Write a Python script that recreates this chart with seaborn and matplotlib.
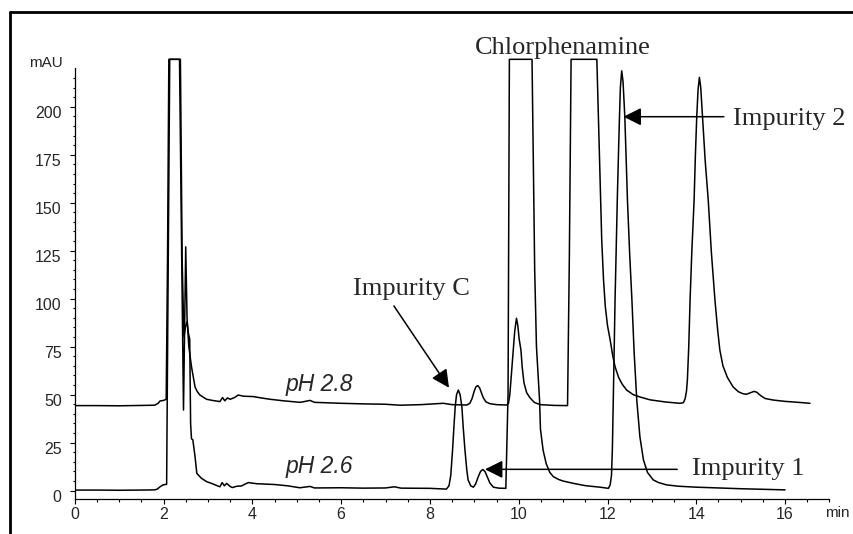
import numpy as np
import pandas as pd
import matplotlib
matplotlib.use("Agg")
import matplotlib.pyplot as plt
import seaborn as sns
from matplotlib.ticker import MultipleLocator, FixedLocator
from matplotlib.transforms import ScaledTranslation
from matplotlib.lines import Line2D

# ---------------- data ----------------
ph28_t = [0.0, 0.5, 1.0, 1.5, 1.8, 1.88, 1.92, 2.0, 2.06, 2.09, 2.12, 2.36, 2.41, 2.45,
          2.48, 2.50, 2.53, 2.57, 2.63, 2.71, 2.76, 2.82, 2.97, 3.1, 3.27, 3.33, 3.38,
          3.44, 3.5, 3.6, 3.68, 3.8, 4.02, 4.2, 4.4, 4.7, 5.08, 5.3, 5.4, 6.0, 6.5, 7.0,
          7.33, 7.8, 8.3, 8.5, 8.83, 8.90, 8.95, 9.0, 9.04, 9.08, 9.12, 9.16, 9.20, 9.26,
          9.35, 9.5, 9.73, 9.77, 9.80, 9.82, 9.85, 9.88, 9.91, 9.95, 9.98, 10.01, 10.05,
          10.08, 10.12, 10.18, 10.25, 10.35, 10.48, 10.8, 11.1, 11.14, 11.18,
          11.76, 11.80, 11.84, 11.87, 11.91, 11.95, 12.0, 12.06, 12.12, 12.17, 12.25,
          12.33, 12.43, 12.58, 12.73, 12.96, 13.3, 13.63, 13.71, 13.75, 13.78, 13.80,
          13.83, 13.86, 13.90, 13.95, 13.98, 14.01, 14.04, 14.07, 14.10, 14.14, 14.20,
          14.27, 14.34, 14.42, 14.48, 14.53, 14.60, 14.7, 14.83, 14.95, 15.05, 15.13,
          15.22, 15.3, 15.36, 15.45, 15.55, 15.73, 16.0, 16.3, 16.56]
ph28_v = [44.3, 44.3, 44.2, 44.4, 44.5, 45.5, 46.7, 47.0, 47.6, 120, 224.7, 224.7, 120, 42,
          95, 127, 90, 75, 64.6, 54, 51.6, 49.8, 47.6, 47.0, 46.4, 48.5, 46.8,
          48.3, 47.6, 48.5, 49.8, 49.2, 49.0, 48.3, 47.6, 46.8, 46.0, 47.0, 46.0, 45.5, 45.2, 45.0,
          44.5, 44.8, 45.5, 44.8, 44.6, 45.5, 48.0, 52.0, 54.2, 54.7, 53.5, 51.0, 48.5, 46.3,
          45.3, 44.8, 44.6, 45.5, 50, 56, 65, 73.3, 83, 89.8, 86, 79, 73.3,
          64, 56, 51, 48.5, 46, 44.8, 44.4, 44.3, 120, 224.7,
          224.7, 190, 155, 130.6, 110, 96, 86, 78.5, 70, 64.6, 59,
          55.5, 52.4, 50, 48.8, 47.3, 46.2, 45.5, 45.8, 48, 52, 58,
          75, 99.3, 125, 151, 175, 194.8, 209, 215.3, 210, 194.8, 172,
          151, 124, 99.3, 84, 73.3, 65, 59, 54, 51.5, 50.5, 50.2,
          51.0, 51.7, 51.3, 49.5, 48.0, 47.2, 46.5, 46.0, 45.5]

ph26_t = [0.0, 0.5, 1.0, 1.5, 1.8, 1.86, 1.92, 1.99, 2.07, 2.10, 2.14, 2.38, 2.42, 2.46,
          2.50, 2.53, 2.56, 2.59, 2.61, 2.63, 2.66, 2.71, 2.75, 2.85, 2.97, 3.1, 3.27,
          3.32, 3.37, 3.42, 3.5, 3.55, 3.65, 3.75, 3.91, 4.1, 4.5, 4.8, 5.07, 5.3, 5.4,
          6.0, 6.5, 7.0, 7.2, 7.35, 8.0, 8.37, 8.43, 8.47, 8.51, 8.54, 8.57, 8.60, 8.64,
          8.68, 8.72, 8.75, 8.79, 8.83, 8.86, 8.92, 8.98, 9.03, 9.09, 9.14, 9.19, 9.24,
          9.29, 9.35, 9.43, 9.55, 9.71, 9.76, 9.79, 10.30, 10.33, 10.36, 10.40, 10.47,
          10.49, 10.55, 10.62, 10.70, 10.78, 10.9, 11.0, 11.23, 11.5, 11.83, 12.02, 12.06,
          12.09, 12.11, 12.13, 12.15, 12.17, 12.20, 12.22, 12.25, 12.27, 12.29, 12.32,
          12.35, 12.39, 12.42, 12.45, 12.50, 12.55, 12.60, 12.66, 12.73, 12.81, 12.9,
          13.03, 13.15, 13.33, 13.6, 14.0, 15.0, 16.0]
ph26_v = [0.3, 0.3, 0.2, 0.3, 0.4, 0.8, 2.0, 3.0, 3.3, 100, 224.7, 224.7, 120, 80,
          86, 88, 82, 79, 35, 27, 26.5, 17.7, 9.0, 6.5, 4.7, 3.6, 2.0,
          4.2, 2.5, 3.8, 2.2, 1.6, 2.3, 2.4, 4.2, 3.6, 3.2, 2.5, 1.5, 2.2, 1.4,
          1.5, 1.3, 1.4, 2.0, 1.3, 1.2, 0.8, 2.5, 8, 21, 33, 43.7, 50, 52.4,
          50, 43.7, 33, 21, 11, 5.6, 2.5, 1.8, 3.5, 7.3, 10, 11.0, 10,
          7.3, 4.0, 1.8, 1.3, 1.2, 50, 224.7, 224.7, 170, 115, 75, 47,
          32, 21, 14, 9.5, 7.3, 5.8, 5.0, 3.8, 2.6, 1.8, 1.2, 3.0,
          8, 22, 47, 73, 99.3, 130, 151, 178, 194.8, 210, 218.7,
          213, 194.8, 173, 151, 123, 99.3, 72, 47, 28, 16, 9.5,
          5.6, 4.2, 3.0, 2.3, 1.8, 1.0, 0.4]

y_major = [0, 25, 50, 75, 100, 125, 150, 175, 200]
x_major = [0, 2, 4, 6, 8, 10, 12, 14, 16]

df28 = pd.DataFrame({"t": ph28_t, "v": ph28_v})
df26 = pd.DataFrame({"t": ph26_t, "v": ph26_v})

# ---------------- figure ----------------
sns.set_style("white")
plt.rcParams["font.family"] = ["Liberation Sans", "DejaVu Sans"]

fig = plt.figure(figsize=(8.54, 5.34), dpi=100)
ax = fig.add_axes([0.0875, 0.0661, 0.9713 - 0.0875, 0.8936 - 0.0661])

sns.lineplot(data=df28, x="t", y="v", sort=False, estimator=None, color="black",
             lw=1.1, ax=ax)
sns.lineplot(data=df26, x="t", y="v", sort=False, estimator=None, color="black",
             lw=1.1, ax=ax)

ax.set_xlim(0, 17)
ax.set_ylim(-4.2, 226)
ax.set_xlabel("")
ax.set_ylabel("")

for s in ["top", "right"]:
    ax.spines[s].set_visible(False)
for s in ["left", "bottom"]:
    ax.spines[s].set_linewidth(0.9)
    ax.spines[s].set_color("black")
ax.spines["left"].set_bounds(-4.2, 220)

ax.xaxis.set_major_locator(FixedLocator(x_major))
ax.xaxis.set_minor_locator(MultipleLocator(0.5))
ax.yaxis.set_major_locator(FixedLocator(y_major))
ax.yaxis.set_minor_locator(FixedLocator(np.arange(0, 216, 5)))
ax.set_xticklabels([str(v) for v in x_major])
ax.set_yticklabels([str(v) for v in y_major])

ax.tick_params(axis="both", which="major", direction="out", length=3.4, width=0.8,
               labelsize=11.5, color="black", left=True, bottom=True)
ax.tick_params(axis="both", which="minor", direction="out", length=1.8, width=0.8,
               color="black", left=True, bottom=True)
ax.tick_params(axis="y", which="major", pad=6)
ax.tick_params(axis="x", which="major", pad=2.5)

for lab in ax.get_yticklabels():
    lab.set_transform(lab.get_transform() + ScaledTranslation(0, -0.055, fig.dpi_scale_trans))

# axis unit labels
fig.text(46 / 854, 1 - 63 / 534, "mAU", ha="center", va="center", fontsize=11)
fig.text(837 / 854, 1 - 513 / 534, "min", ha="center", va="center", fontsize=11)

# trace labels
ax.text(6.26, 52.1, "pH 2.8", ha="right", va="baseline", fontsize=16.5, style="italic")
ax.text(6.26, 9.1, "pH 2.6", ha="right", va="baseline", fontsize=16.5, style="italic")

serif = ["Liberation Serif", "DejaVu Serif"]
arrow = dict(arrowstyle="-|>,head_length=0.4,head_width=0.2", mutation_scale=27,
             color="black", lw=1.1, shrinkA=0, shrinkB=0)

ax.text(11.0, 227.4, "Chlorphenamine", ha="center", va="baseline", fontsize=19,
        family=serif)

ax.text(14.82, 190.5, "Impurity 2", ha="left", va="baseline", fontsize=19, family=serif)
ax.annotate("", xy=(12.36, 194.8), xytext=(14.62, 194.8), arrowprops=arrow)

ax.text(13.9, 8.2, "Impurity 1", ha="left", va="baseline", fontsize=19, family=serif)
ax.annotate("", xy=(9.24, 11.1), xytext=(13.57, 11.1), arrowprops=arrow)

ax.text(8.89, 101.9, "Impurity C", ha="right", va="baseline", fontsize=19, family=serif)
ax.annotate("", xy=(8.43, 53.6), xytext=(7.19, 96.2), arrowprops=arrow)

# outer frame (left and top edges visible)
fig.add_artist(Line2D([10 / 854, 10 / 854], [0, 1 - 11.5 / 534], transform=fig.transFigure,
                      color="black", lw=2.0))
fig.add_artist(Line2D([10 / 854, 1.0], [1 - 11.5 / 534, 1 - 11.5 / 534],
                      transform=fig.transFigure, color="black", lw=2.0))

fig.savefig("out.png", dpi=100)
